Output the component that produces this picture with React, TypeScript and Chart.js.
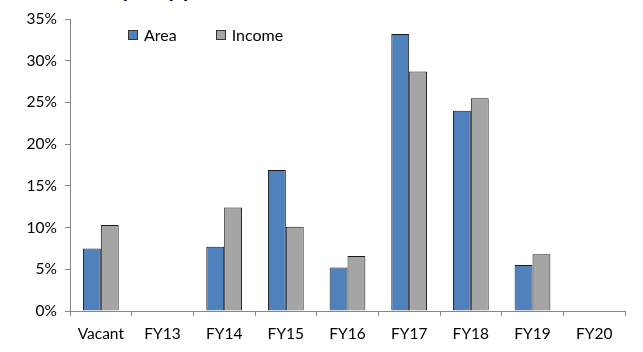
import React, { useEffect, useRef } from "react";
import { Chart, registerables } from "chart.js";

Chart.register(...registerables);

const categories = ["Vacant", "FY13", "FY14", "FY15", "FY16", "FY17", "FY18", "FY19", "FY20"];
const areaValues = [7.5, null, 7.7, 16.9, 5.2, 33.2, 24.0, 5.5, null];
const incomeValues = [10.3, null, 12.4, 10.1, 6.6, 28.7, 25.5, 6.8, null];
const seriesNames = ["Area", "Income"];
const seriesColors = ["#4F81BD", "#A5A5A5"];
const titleText = "Occupancy profile";

const FONT = "Lato, 'Open Sans', sans-serif";

export default function App() {
  const canvasRef = useRef<HTMLCanvasElement | null>(null);

  useEffect(() => {
    const ctx = canvasRef.current!;
    const chart = new Chart(ctx, {
      type: "bar",
      data: {
        labels: categories,
        datasets: [
          {
            label: seriesNames[0],
            data: areaValues,
            backgroundColor: seriesColors[0],
            borderColor: "#1a1a1a",
            borderWidth: 1,
            categoryPercentage: 0.58,
            barPercentage: 1,
          },
          {
            label: seriesNames[1],
            data: incomeValues,
            backgroundColor: seriesColors[1],
            borderColor: "#1a1a1a",
            borderWidth: 1,
            categoryPercentage: 0.58,
            barPercentage: 1,
          },
        ],
      },
      options: {
        animation: false,
        responsive: false,
        maintainAspectRatio: false,
        layout: { padding: { top: 19, right: 18, left: 0, bottom: 0 } },
        plugins: {
          legend: { display: false },
          tooltip: { enabled: false },
        },
        scales: {
          x: {
            offset: true,
            grid: {
              offset: true,
              drawOnChartArea: false,
              drawTicks: true,
              tickLength: 5,
              color: "#868686",
            },
            border: { color: "#868686", width: 1 },
            ticks: {
              color: "#000",
              font: { family: FONT, size: 15.5 },
              padding: 9,
              maxRotation: 0,
              autoSkip: false,
            },
            afterFit: (s: any) => {
              s.height = 41;
            },
          },
          y: {
            min: 0,
            max: 35,
            grid: {
              drawOnChartArea: false,
              drawTicks: true,
              tickLength: 5,
              color: "#868686",
            },
            border: { color: "#868686", width: 1 },
            ticks: {
              stepSize: 5,
              color: "#000",
              font: { family: FONT, size: 15.5 },
              padding: 8,
              callback: (v: any) => v + "%",
            },
            afterFit: (s: any) => {
              s.width = 70;
            },
          },
        },
      },
    });
    return () => chart.destroy();
  }, []);

  const legendItem = (i: number, mr: number) => (
    <div style={{ display: "flex", alignItems: "center", marginRight: mr }}>
      <div
        style={{
          width: 8,
          height: 8,
          background: seriesColors[i],
          border: "1px solid #333",
          marginRight: 6,
        }}
      />
      <span style={{ fontFamily: FONT, fontSize: 16, color: "#000" }}>{seriesNames[i]}</span>
    </div>
  );

  return (
    <div style={{ position: "fixed", left: 0, top: 0, width: 643, height: 352, background: "#fff", overflow: "hidden" }}>
      <div
        style={{
          position: "absolute",
          left: 74,
          top: -23,
          fontFamily: FONT,
          fontWeight: "bold",
          fontSize: 21,
          lineHeight: "24px",
          whiteSpace: "nowrap",
          color: "#000",
        }}
      >
        {titleText}
      </div>
      <canvas ref={canvasRef} width={643} height={352} style={{ position: "absolute", left: 0, top: 0 }} />
      <div style={{ position: "absolute", left: 128, top: 25, display: "flex" }}>
        {legendItem(0, 39)}
        {legendItem(1, 0)}
      </div>
    </div>
  );
}
